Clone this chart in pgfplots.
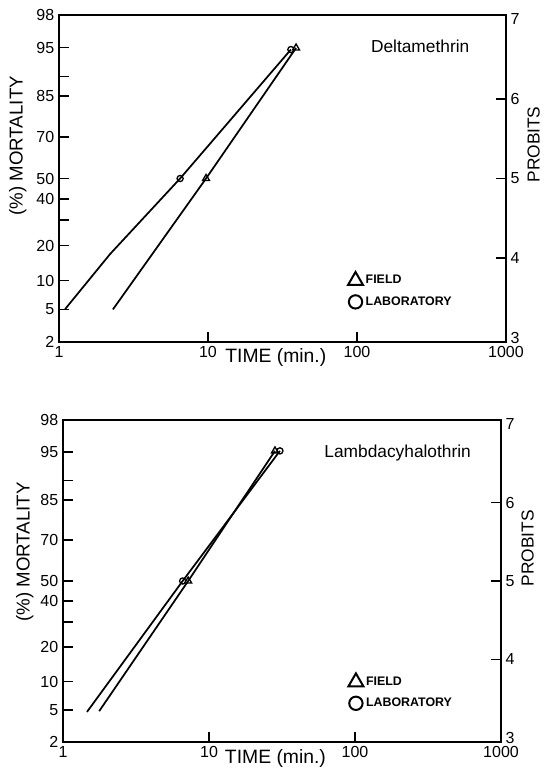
\documentclass[border=0pt]{standalone}
\usepackage{fontspec}
\setmainfont{Liberation Sans}
\usepackage{pgfplots}
\pgfplotsset{compat=1.18}

\begin{document}
\begin{tikzpicture}
\useasboundingbox (0,0) rectangle (408pt,-583.5pt);

% y is in probit units; left ticks are the matching mortality percentages
% ---------- Deltamethrin ----------
\begin{axis}[at={(44.25pt,-256.5pt)}, anchor=south west,
    scale only axis, width=335.25pt, height=245.25pt,
    xmode=log, xmin=1, xmax=1000, ymin=2.946, ymax=7.054,
    axis line style={line width=1.5pt}, major tick style={line width=1.3pt, black},
    major tick length=7.5pt, tick align=inside,
    xminorticks=false, yminorticks=false,
    tick label style={font=\fontsize{12}{14}\selectfont},
    xtick pos=lower, ytick pos=left,
    xtick={1,10,100,1000}, xticklabels={1,10,100,1000},
    ytick={2.946,3.355,3.718,4.158,4.476,4.747,5,5.524,6.036,6.282,6.645,7.054},
    yticklabels={2,5,10,20,,40,50,70,85,,95,98},
    xlabel={TIME (min.)}, ylabel={(\%) MORTALITY},
    ylabel style={at={(axis description cs:-0.092,0.6)}, anchor=center, font=\fontsize{14}{16}\selectfont},
    xlabel style={at={(axis description cs:0.485,-0.048)}, anchor=center, font=\fontsize{14.5}{16}\selectfont},
    legend style={at={(axis description cs:0.646,0.215)}, anchor=north west,
      draw=none, fill=none, inner sep=0pt, row sep=4pt,
      font=\fontsize{9.3}{10}\selectfont\bfseries},
    legend cell align=left]
% laboratory
\addplot[black, line width=1.3pt, mark=o, mark size=2.3pt, mark indices={3,4},
  mark options={solid, line width=1pt}, forget plot] coordinates {
  (1.1,3.36) (2.2,4.05) (6.5,5.0) (36,6.62)
};
% field
\addplot[black, line width=1.3pt, mark=triangle, mark size=3pt, mark indices={2,3},
  mark options={solid, line width=1pt}, forget plot] coordinates {
  (2.3,3.355) (9.7,5.0) (39,6.64)
};
\addlegendimage{black, only marks, mark=triangle, mark size=6.5pt, mark options={line width=1.5pt}}
\addlegendentry{FIELD}
\addlegendimage{black, only marks, mark=o, mark size=5pt, mark options={line width=1.5pt}}
\addlegendentry{LABORATORY}
\node[font=\fontsize{13}{15}\selectfont] at (rel axis cs:0.808,0.905) {Deltamethrin};
\end{axis}
\begin{axis}[at={(44.25pt,-256.5pt)}, anchor=south west,
    scale only axis, width=335.25pt, height=245.25pt,
    xmode=log, xmin=1, xmax=1000, ymin=2.946, ymax=7.054,
    axis x line=none, axis y line*=right,
    axis line style={line width=1.5pt}, major tick style={line width=1.3pt, black},
    major tick length=7.5pt, tick align=inside, yminorticks=false,
    tick label style={font=\fontsize{12}{14}\selectfont},
    ytick={4,5,6}, yticklabels={4,5,6},
    extra y ticks={3,7}, extra y tick labels={3,7},
    extra y tick style={major tick length=0pt},
    ylabel={PROBITS},
    ylabel style={at={(axis description cs:1.062,0.604)}, anchor=center, font=\fontsize{13}{15}\selectfont}]
\end{axis}

% ---------- Lambdacyhalothrin ----------
\begin{axis}[at={(47.25pt,-556.5pt)}, anchor=south west,
    scale only axis, width=328.5pt, height=241.5pt,
    xmode=log, xmin=1, xmax=1000, ymin=2.946, ymax=7.054,
    axis line style={line width=1.5pt}, major tick style={line width=1.3pt, black},
    major tick length=7.5pt, tick align=inside,
    xminorticks=false, yminorticks=false,
    tick label style={font=\fontsize{12}{14}\selectfont},
    xtick pos=lower, ytick pos=left,
    xtick={1,10,100,1000}, xticklabels={1,10,100,1000},
    ytick={2.946,3.355,3.718,4.158,4.476,4.747,5,5.524,6.036,6.282,6.645,7.054},
    yticklabels={2,5,10,20,,40,50,70,85,,95,98},
    xlabel={TIME (min.)}, ylabel={(\%) MORTALITY},
    ylabel style={at={(axis description cs:-0.087,0.59)}, anchor=center, font=\fontsize{14}{16}\selectfont},
    xlabel style={at={(axis description cs:0.485,-0.05)}, anchor=center, font=\fontsize{14.5}{16}\selectfont},
    legend style={at={(axis description cs:0.651,0.214)}, anchor=north west,
      draw=none, fill=none, inner sep=0pt, row sep=4pt,
      font=\fontsize{9.3}{10}\selectfont\bfseries},
    legend cell align=left]
% laboratory
\addplot[black, line width=1.3pt, mark=o, mark size=2.3pt, mark indices={2,3},
  mark options={solid, line width=1pt}, forget plot] coordinates {
  (1.46,3.33) (6.6,5.0) (30.6,6.66)
};
% field
\addplot[black, line width=1.3pt, mark=triangle, mark size=3pt, mark indices={2,3},
  mark options={solid, line width=1pt}, forget plot] coordinates {
  (1.77,3.34) (7.2,5.0) (28.3,6.66)
};
\addlegendimage{black, only marks, mark=triangle, mark size=6.5pt, mark options={line width=1.5pt}}
\addlegendentry{FIELD}
\addlegendimage{black, only marks, mark=o, mark size=5pt, mark options={line width=1.5pt}}
\addlegendentry{LABORATORY}
\node[font=\fontsize{13}{15}\selectfont] at (rel axis cs:0.764,0.898) {Lambdacyhalothrin};
\end{axis}
\begin{axis}[at={(47.25pt,-556.5pt)}, anchor=south west,
    scale only axis, width=328.5pt, height=241.5pt,
    xmode=log, xmin=1, xmax=1000, ymin=2.946, ymax=7.054,
    axis x line=none, axis y line*=right,
    axis line style={line width=1.5pt}, major tick style={line width=1.3pt, black},
    major tick length=7.5pt, tick align=inside, yminorticks=false,
    tick label style={font=\fontsize{12}{14}\selectfont},
    ytick={4,5,6}, yticklabels={4,5,6},
    extra y ticks={3,7}, extra y tick labels={3,7},
    extra y tick style={major tick length=0pt},
    ylabel={PROBITS},
    ylabel style={at={(axis description cs:1.061,0.602)}, anchor=center, font=\fontsize{13}{15}\selectfont}]
\end{axis}
\end{tikzpicture}
\end{document}
